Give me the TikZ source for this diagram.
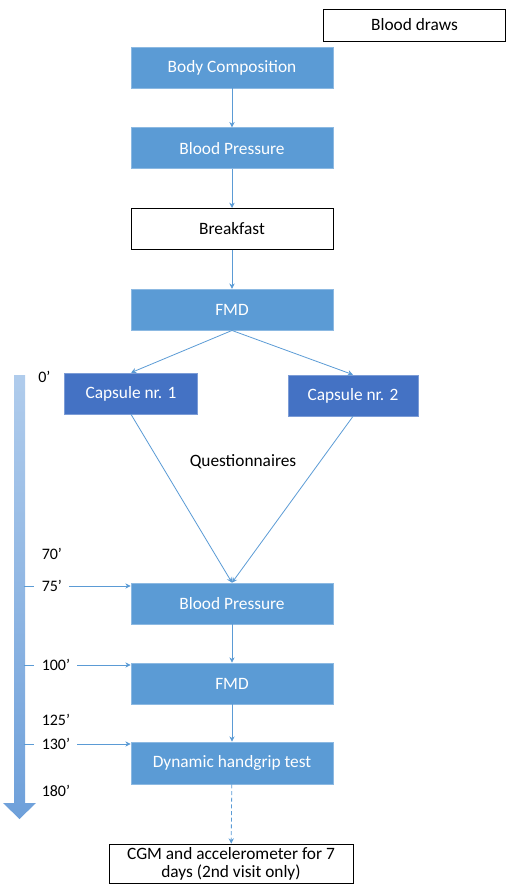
\documentclass[tikz,border=0pt]{standalone}
\usepackage{fontspec}
\setmainfont{Carlito}
\usetikzlibrary{arrows.meta,positioning,calc}
\definecolor{stepblue}{RGB}{91,155,213}
\definecolor{capblue}{RGB}{68,114,196}
\definecolor{lineblue}{RGB}{91,155,213}
\definecolor{timetop}{RGB}{176,204,236}
\definecolor{timebot}{RGB}{110,160,218}
\tikzset{
  bbox/.style={draw=stepblue!70!white, fill=stepblue, line width=0.5pt, text=white,
               minimum width=151.5pt, minimum height=30.75pt, inner sep=0pt, font=\fontsize{13}{15}\selectfont},
  cbox/.style={draw=capblue!70!white, fill=capblue, line width=0.5pt, text=white,
               minimum width=100pt, minimum height=30.75pt, inner sep=0pt, font=\fontsize{13}{15}\selectfont},
  wbox/.style={draw=black, fill=white, line width=0.6pt,
               minimum width=151.5pt, minimum height=30.75pt, inner sep=0pt, font=\fontsize{13}{15}\selectfont},
  tlabel/.style={anchor=west, inner sep=0pt, font=\fontsize{12}{14}\selectfont},
  flow/.style={-{Stealth[length=4pt,width=4pt]}, line width=0.6pt, draw=lineblue},
  tick/.style={line width=0.6pt, draw=lineblue},
}
\begin{document}
\begin{tikzpicture}[x=0.75pt, y=0.75pt]
    \useasboundingbox (0,0) rectangle (509,-884);
    % main sequence
    \node[wbox, minimum width=137pt, minimum height=24pt] (draws) at (414.5,-25) {Blood draws};
    \node[bbox] (body) at (232,-67.5) {Body Composition};
    \node[bbox, below=29.25pt of body] (bp1) {Blood Pressure};
    \node[wbox, below=29.25pt of bp1] (bfast) {Breakfast};
    \node[bbox, below=29.25pt of bfast] (fmd1) {FMD};
    \node[cbox] (cap1) at (131,-393.5) {Capsule nr. 1};
    \node[cbox, minimum width=97.5pt] (cap2) at (353,-395.5) {Capsule nr. 2};
    \node[font=\fontsize{13}{15}\selectfont] (quest) at (243,-462) {Questionnaires};
    \node[bbox] (bp2) at (232,-603.5) {Blood Pressure};
    \node[bbox] (fmd2) at (232,-683.5) {FMD};
    \node[bbox, minimum height=31.5pt] (grip) at (232,-763) {Dynamic handgrip test};
    \node[wbox, minimum width=183pt, minimum height=29.25pt, align=center,
          font=\fontsize{13}{13.5}\selectfont] (cgm) at (231,-863.5) {CGM and accelerometer for 7\\days (2nd visit only)};

    \draw[flow] (body) -- (bp1);
    \draw[flow] (bp1) -- (bfast);
    \draw[flow] (bfast) -- (fmd1);
    \draw[flow] (fmd1.south) -- (cap1.north);
    \draw[flow] (fmd1.south) -- (cap2.north);
    \draw[flow] (cap1.south) -- (bp2.north);
    \draw[flow] (cap2.south) -- (bp2.north);
    \draw[flow] (bp2) -- (fmd2);
    \draw[flow] (fmd2) -- (grip);
    \draw[flow, dash pattern=on 3pt off 2pt] (grip) -- (cgm);

    % time line
    \shade[top color=timetop, bottom color=timebot]
      (14,-375) -- (25,-375) -- (25,-803) -- (36,-803) -- (19.5,-819)
      -- (3,-803) -- (14,-803) -- cycle;
    \node[tlabel] (t0) at (38,-377) {0’};
    \node[tlabel] (t70) at (41.5,-554) {70’};
    \node[tlabel] (t75) at (41.5,-586) {75’};
    \node[tlabel] (t100) at (41.5,-665) {100’};
    \node[tlabel] (t125) at (41.5,-720) {125’};
    \node[tlabel] (t130) at (41.5,-744) {130’};
    \node[tlabel] (t180) at (41.5,-791) {180’};
    \foreach \t in {t75,t100,t130}{
      \draw[tick] ($(\t.west)+(-18,0)$) -- ($(\t.west)+(-8,0)$);
      \draw[flow] ($(\t.east)+(7,0)$) -- (bp2.west |- \t.east);}
\end{tikzpicture}
\end{document}
